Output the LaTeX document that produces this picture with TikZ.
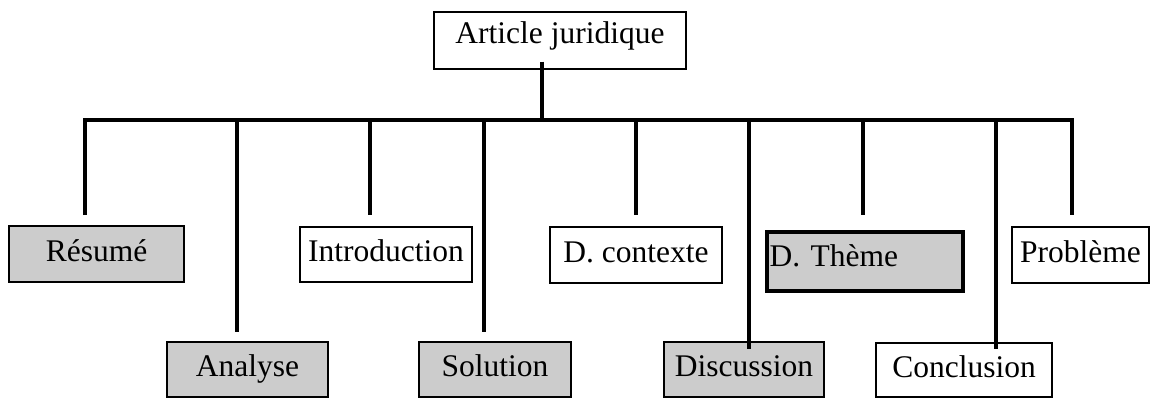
\documentclass[tikz,border=0pt]{standalone}
\usepackage{fontspec}
\setmainfont{Liberation Serif}
\usetikzlibrary{calc}
\begin{document}
\begin{tikzpicture}[x=1pt,y=-1pt,
  every node/.style={font=\fontsize{31.5}{37}\selectfont},
  box/.style={draw=black, line width=1.3pt, rectangle, inner sep=0pt,
    text height=21pt, text depth=6.5pt},
  shaded/.style={box, fill=black!20},
  conn/.style={line width=3.6pt, line join=miter},
]
\useasboundingbox (0,0) rectangle (1150,398);

% root
\node[box, text depth=14pt, minimum width=252, minimum height=57] (art) at (560,40.5) {Article juridique};

% children
\node[shaded, minimum width=175, minimum height=56] (resume) at (96.5,254) {Résumé};
\node[shaded, minimum width=161, minimum height=55] (analyse) at (247.5,369.5) {Analyse};
\node[box, minimum width=172, minimum height=55] (intro) at (386,254.5) {Introduction};
\node[shaded, minimum width=152, minimum height=55] (solution) at (495,369.5) {Solution};
\node[box, minimum width=172, minimum height=56] (contexte) at (636,255) {D. contexte};
\node[shaded, minimum width=160, minimum height=55] (discussion) at (744,369.5) {Discussion};
\node[shaded, line width=4pt, text width=190pt, align=left, inner xsep=3pt,
      text depth=12pt, minimum height=59] (theme) at (864.5,261.5) {D. Thème};
\node[box, minimum width=176, minimum height=54] (conclusion) at (964,370) {Conclusion};
\node[box, minimum width=137, minimum height=56] (probleme) at (1080.5,255) {Problème};

% branch points on the bar and free line ends
\coordinate (stem) at (542,120);
\coordinate (b1) at (85,120);   \coordinate (e1) at (85,215);
\coordinate (b2) at (237,120);  \coordinate (e2) at (237,332);
\coordinate (b3) at (370,120);  \coordinate (e3) at (370,215);
\coordinate (b4) at (484,120);  \coordinate (e4) at (484,332);
\coordinate (b5) at (636,120);  \coordinate (e5) at (636,215);
\coordinate (b6) at (749,120);  \coordinate (e6) at (749,349);
\coordinate (b7) at (863,120);  \coordinate (e7) at (863,215);
\coordinate (b8) at (996,120);  \coordinate (e8) at (996,349);
\coordinate (b9) at (1072,120); \coordinate (e9) at (1072,215);

% connectors
\draw[conn] ($(art.south -| stem)+(0,-8)$) -- (stem);
\draw[conn] (e1) -- (b1) -- (b9) -- (e9);
\foreach \i in {2,...,8} { \draw[conn] (b\i) -- (e\i); }
\end{tikzpicture}
\end{document}
